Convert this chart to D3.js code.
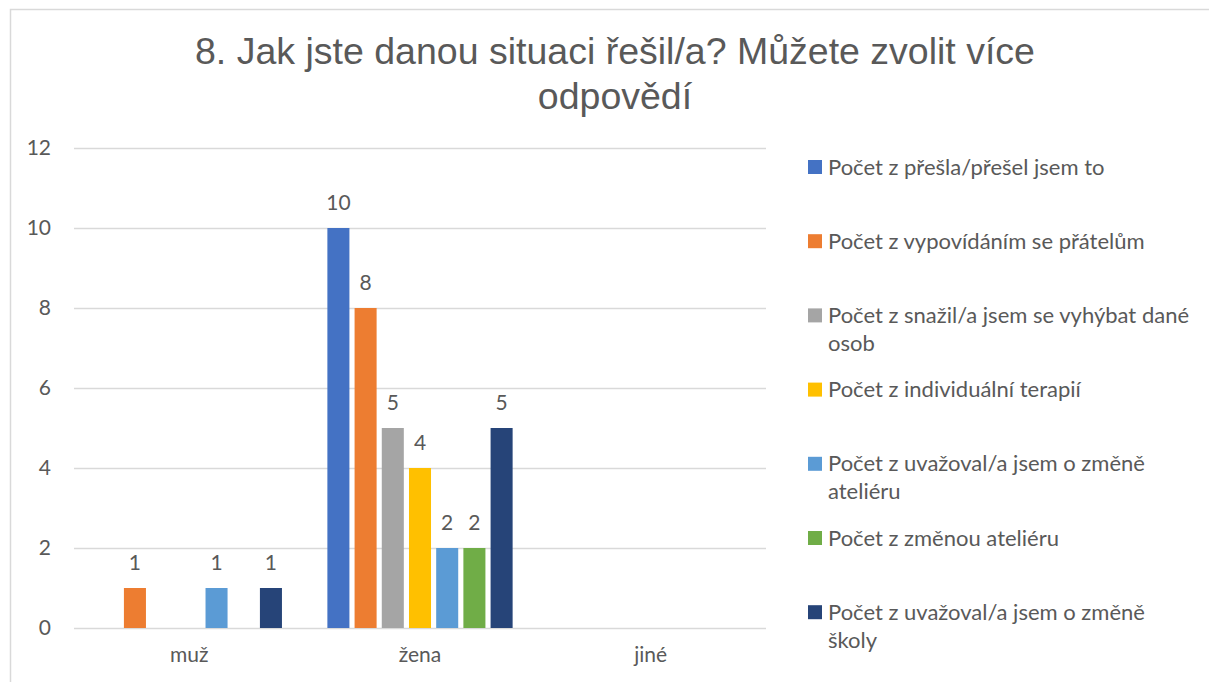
<!DOCTYPE html>
<html>
<head>
<meta charset="utf-8">
<script src="https://cdn.jsdelivr.net/npm/d3@7"></script>
<style>
  body { margin: 0; background: #fff; }
  svg text { fill: #595959; }
</style>
</head>
<body>
<svg id="chart" width="1209" height="682"></svg>
<script>
const categories = ['muž', 'žena', 'jiné'];
const seriesNames = [
  'Počet z přešla/přešel jsem to',
  'Počet z vypovídáním se přátelům',
  'Počet z snažil/a jsem se vyhýbat dané osob',
  'Počet z individuální terapií',
  'Počet z uvažoval/a jsem o změně ateliéru',
  'Počet z změnou ateliéru',
  'Počet z uvažoval/a jsem o změně školy'
];
// legend lines as wrapped in the original
const legendLines = [
  ['Počet z přešla/přešel jsem to'],
  ['Počet z vypovídáním se přátelům'],
  ['Počet z snažil/a jsem se vyhýbat dané', 'osob'],
  ['Počet z individuální terapií'],
  ['Počet z uvažoval/a jsem o změně', 'ateliéru'],
  ['Počet z změnou ateliéru'],
  ['Počet z uvažoval/a jsem o změně', 'školy']
];
const colors = ['#4472C4', '#ED7D31', '#A5A5A5', '#FFC000', '#5B9BD5', '#70AD47', '#264478'];
// values per category, one per series (null = empty)
const muzValues  = [null, 1, null, null, 1, null, 1];
const zenaValues = [10, 8, 5, 4, 2, 2, 5];
const jineValues = [null, null, null, null, null, null, null];
const yTicks = [0, 2, 4, 6, 8, 10, 12];
const titleLines = ['8. Jak jste danou situaci řešil/a? Můžete zvolit více', 'odpovědí'];

const valuesByCat = [muzValues, zenaValues, jineValues];
const rows = [];
categories.forEach((c, ci) => {
  seriesNames.forEach((s, si) => {
    rows.push({cat: c, series: s, idx: si, value: valuesByCat[ci][si]});
  });
});

const svg = d3.select('#chart');
const uiFont = 'Lato, "Open Sans", sans-serif';

// outer frame
svg.append('rect')
  .attr('x', 10.5).attr('y', 9.5)
  .attr('width', 1230).attr('height', 700)
  .attr('fill', 'none')
  .attr('stroke', '#d9d9d9')
  .attr('stroke-width', 1.5);

// title
svg.append('text')
  .attr('x', 615)
  .attr('y', 64)
  .attr('text-anchor', 'middle')
  .style('font-family', '"Liberation Sans", Arial, sans-serif')
  .style('font-size', '37.5px')
  .selectAll('tspan')
  .data(titleLines)
  .join('tspan')
  .attr('x', 615)
  .attr('dy', (d, i) => i === 0 ? 0 : 45)
  .text(d => d);

const plotLeft = 74, plotRight = 766, plotTop = 148, plotBottom = 628;

const x0 = d3.scaleBand()
  .domain(categories)
  .range([plotLeft, plotRight]);

const x1 = d3.scaleBand()
  .domain(seriesNames)
  .range([0, x0.bandwidth()])
  .paddingInner(0.19)
  .paddingOuter(0.835);

const y = d3.scaleLinear()
  .domain([0, 12])
  .range([plotBottom, plotTop]);

// gridlines
const yAxis = d3.axisLeft(y)
  .tickValues(yTicks)
  .tickSize(-(plotRight - plotLeft))
  .tickPadding(23);

const gy = svg.append('g')
  .attr('transform', `translate(${plotLeft},0)`)
  .call(yAxis);
gy.select('.domain').remove();
gy.selectAll('.tick line')
  .attr('stroke', '#d9d9d9')
  .attr('stroke-width', 1.5);
gy.selectAll('.tick text')
  .style('font-family', uiFont)
  .style('font-size', '21px')
  .attr('fill', '#595959');

// x axis labels
const xAxis = d3.axisBottom(x0).tickSize(0).tickPadding(19);
const gx = svg.append('g')
  .attr('transform', `translate(0,${plotBottom})`)
  .call(xAxis);
gx.select('.domain').remove();
gx.selectAll('.tick text')
  .style('font-family', uiFont)
  .style('font-size', '21px')
  .attr('fill', '#595959');

// bars
const bars = rows.filter(d => d.value !== null);
svg.append('g')
  .selectAll('rect')
  .data(bars)
  .join('rect')
  .attr('x', d => x0(d.cat) + x1(d.series))
  .attr('y', d => y(d.value))
  .attr('width', x1.bandwidth())
  .attr('height', d => y(0) - y(d.value))
  .attr('fill', d => colors[d.idx]);

// data labels
svg.append('g')
  .selectAll('text')
  .data(bars)
  .join('text')
  .attr('x', d => x0(d.cat) + x1(d.series) + x1.bandwidth() / 2)
  .attr('y', d => y(d.value) - 18)
  .attr('text-anchor', 'middle')
  .style('font-family', uiFont)
  .style('font-size', '21px')
  .text(d => d.value);

// legend
const legend = svg.append('g')
  .selectAll('g')
  .data(legendLines)
  .join('g')
  .attr('transform', (d, i) => `translate(808,${167 + i * 74.2})`);

legend.append('rect')
  .attr('x', 0).attr('y', -7)
  .attr('width', 14).attr('height', 14)
  .attr('fill', (d, i) => colors[i]);

legend.append('text')
  .attr('y', 7.5)
  .style('font-family', uiFont)
  .style('font-size', '22px')
  .selectAll('tspan')
  .data(d => d)
  .join('tspan')
  .attr('x', 20)
  .attr('dy', (d, i) => i === 0 ? 0 : 28)
  .text(d => d);
</script>
</body>
</html>
